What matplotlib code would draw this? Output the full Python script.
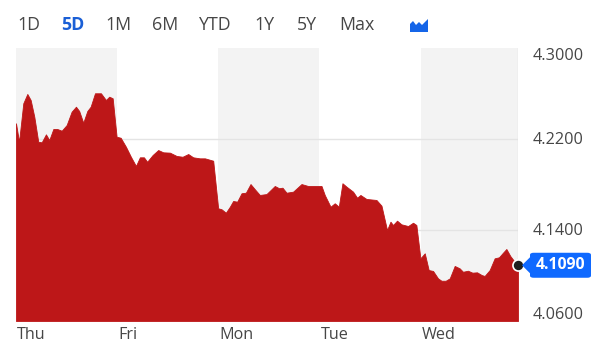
import matplotlib
matplotlib.use("Agg")
import matplotlib.pyplot as plt
from matplotlib.patches import Polygon, FancyBboxPatch

# --- data ---
days = ["Thu", "Fri", "Mon", "Tue", "Wed"]
range_buttons = ["1D", "5D", "1M", "6M", "YTD", "1Y", "5Y", "Max"]
active_button = "5D"
y_ticks = [4.30, 4.22, 4.14, 4.06]
last_price = 4.109

# time in trading days since Thu open
t = [0.000, 0.030, 0.072, 0.112, 0.145, 0.181, 0.220, 0.254, 0.296, 0.329,
     0.369, 0.408, 0.452, 0.501, 0.550, 0.593, 0.625, 0.665, 0.705, 0.738,
     0.781, 0.840, 0.889, 0.922, 0.956, 0.995, 1.035, 1.087, 1.136, 1.186,
     1.225, 1.265, 1.297, 1.351, 1.406, 1.456, 1.522, 1.588, 1.647, 1.703,
     1.752, 1.818, 1.868, 1.950, 1.999, 2.033, 2.075, 2.115, 2.147, 2.187,
     2.230, 2.273, 2.319, 2.362, 2.411, 2.477, 2.559, 2.602, 2.635, 2.675,
     2.740, 2.823, 2.888, 3.021, 3.053, 3.110, 3.152, 3.192, 3.228, 3.268,
     3.333, 3.373, 3.406, 3.465, 3.564, 3.614, 3.669, 3.703, 3.728, 3.768,
     3.811, 3.877, 3.926, 3.959, 3.999, 4.042, 4.081, 4.124, 4.173, 4.207,
     4.249, 4.289, 4.338, 4.387, 4.420, 4.469, 4.513, 4.559, 4.605, 4.634,
     4.684, 4.733, 4.776, 4.815, 4.849, 4.888, 4.931, 4.964]
price = [4.2338, 4.2176, 4.2514, 4.2596, 4.2543, 4.2396, 4.2176, 4.2171, 4.2241, 4.2191,
         4.2288, 4.2288, 4.2273, 4.2323, 4.2440, 4.2484, 4.2446, 4.2343, 4.2446, 4.2484,
         4.2602, 4.2602, 4.2543, 4.2572, 4.2558, 4.2220, 4.2211, 4.2132, 4.2044, 4.1963,
         4.2039, 4.2039, 4.2000, 4.2059, 4.2103, 4.2083, 4.2080, 4.2051, 4.2044, 4.2068,
         4.2039, 4.2030, 4.2030, 4.2009, 4.1591, 4.1582, 4.1552, 4.1605, 4.1655, 4.1649,
         4.1723, 4.1728, 4.1804, 4.1758, 4.1708, 4.1716, 4.1787, 4.1767, 4.1772, 4.1728,
         4.1737, 4.1804, 4.1787, 4.1787, 4.1708, 4.1605, 4.1635, 4.1605, 4.1811, 4.1781,
         4.1737, 4.1684, 4.1708, 4.1673, 4.1664, 4.1614, 4.1400, 4.1473, 4.1444, 4.1482,
         4.1450, 4.1435, 4.1464, 4.1444, 4.1151, 4.1195, 4.1048, 4.1040, 4.0975, 4.0954,
         4.0954, 4.0975, 4.1084, 4.1063, 4.1033, 4.1042, 4.1025, 4.1028, 4.1004, 4.0996,
         4.1048, 4.1151, 4.1160, 4.1200, 4.1233, 4.1171, 4.1121, 4.1090]

W, H = 610, 360
TXT = "#464646"
RED = "#bd1718"
BLUE = "#0f69ff"

plt.rcParams['font.family'] = ['Open Sans', 'DejaVu Sans']

fig = plt.figure(figsize=(W / 100, H / 100), dpi=100)
fig.patch.set_facecolor("white")

# plot box in pixels: x 16..518, y 48..321
ax = fig.add_axes([16 / W, 1 - 321 / H, (518 - 16) / W, (321 - 48) / H])
ax.set_xlim(0, t[-1])
ax.set_ylim(y_ticks[-1], y_ticks[0])

# alternating day bands + day labels
for i, d in enumerate(days):
    if i % 2 == 0:
        ax.axvspan(i, min(i + 1, t[-1]), color="#f3f3f3", lw=0, zorder=0)
    ax.annotate(d, xy=(i, 0), xycoords=("data", "axes fraction"),
                xytext=(1, -18), textcoords="offset pixels",
                ha="left", va="baseline", fontsize=11.6, color=TXT)

for y in y_ticks[1:-1]:
    ax.axhline(y, color="#e4e4e4", lw=1, zorder=1)
ax.axvline(t[-1], color="#e0e0e0", lw=1, zorder=1)

ax.fill_between(t, price, y_ticks[-1], color=RED, lw=0.6, edgecolor=RED, zorder=2)

for sp in ax.spines.values():
    sp.set_visible(False)
ax.set_xticks([])
ax.set_yticks([])

# y labels (top / bottom nudged inward like the original)
nudges = [-12, -5, -5, 2]
for y, dy in zip(y_ticks, nudges):
    ax.annotate(f"{y:.4f}", xy=(1, y), xycoords=("axes fraction", "data"),
                xytext=(15, dy), textcoords="offset pixels",
                ha="left", va="baseline", fontsize=11.7, color=TXT)

# last-price marker and badge (in figure pixels)
fig.canvas.draw()
px, py = ax.transData.transform((t[-1], last_price))
def fx(x):
    return x / W
def fy(y):
    return y / H
badge = FancyBboxPatch((fx(px + 12), fy(py - 12.5)), fx(61), fy(25),
                       boxstyle="round,pad=0,rounding_size=0.006",
                       transform=fig.transFigure, fc=BLUE, ec="none", zorder=5)
fig.add_artist(badge)
tip = Polygon([(fx(px + 4), fy(py)), (fx(px + 13), fy(py + 9)), (fx(px + 13), fy(py - 9))],
              closed=True, transform=fig.transFigure, fc=BLUE, ec="none", zorder=5)
fig.add_artist(tip)
fig.text(fx(px + 42.5), fy(py), f"{last_price:.4f}", ha="center", va="center",
         fontsize=11.3, fontweight="bold", color="white", zorder=6)
ax.plot([t[-1]], [last_price], "o", ms=8, mfc="#1e1e1e", mec="white", mew=1.2,
        zorder=6, clip_on=False)

# range selector header
btn_x = [17, 61, 105, 152, 199, 254, 297, 339]
for lbl, x in zip(range_buttons, btn_x):
    on = lbl == active_button
    fig.text(x / W, 1 - 30 / H, lbl, ha="left", va="baseline", fontsize=12.8,
             color="#1a5fd6" if on else TXT, fontweight="bold" if on else "normal")

icon = [(410, 32), (410, 24), (413, 21), (416, 25), (419, 22), (422, 25), (428, 19), (428, 32)]
fig.add_artist(Polygon([(x / W, 1 - y / H) for x, y in icon], closed=True,
                       transform=fig.transFigure, fc="#1565e8", ec="none"))

fig.savefig("out.png", dpi=100)
